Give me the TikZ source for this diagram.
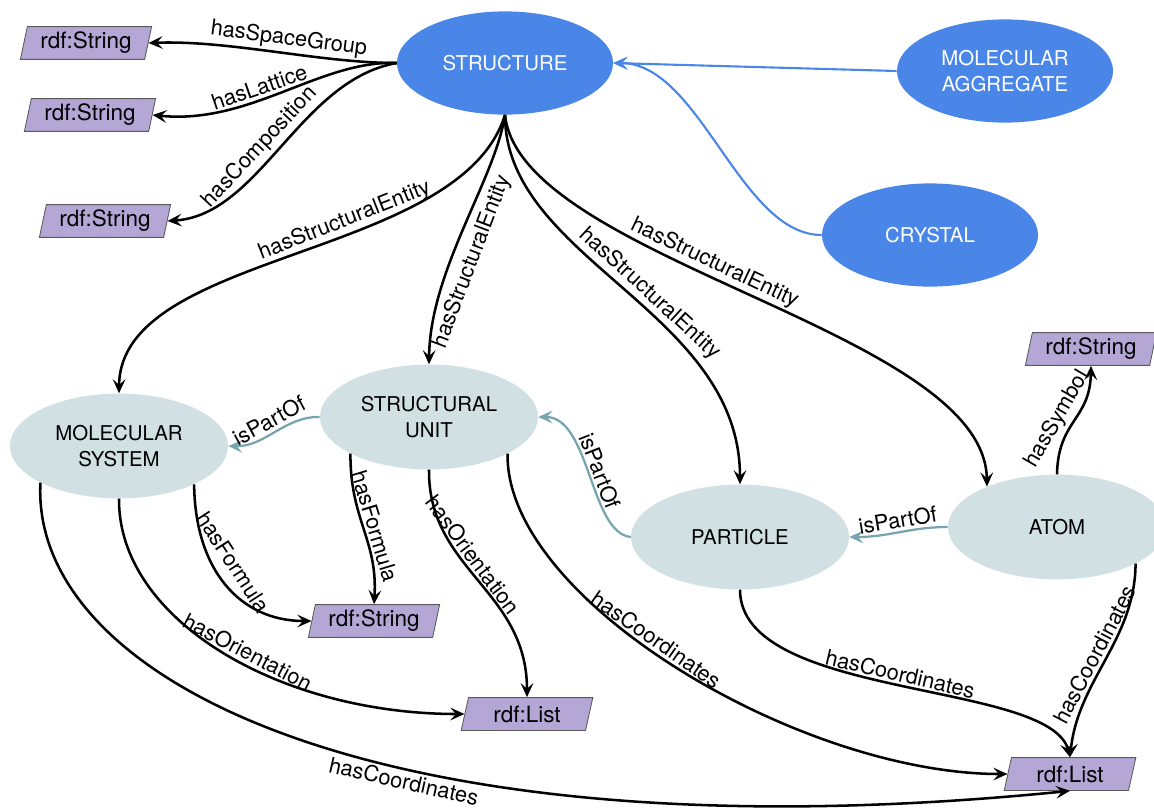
\documentclass[tikz,border=0pt]{standalone}
\usepackage{fontspec}
\setmainfont{TeX Gyre Heros}
\usetikzlibrary{shapes.geometric,arrows.meta}

\definecolor{classblue}{RGB}{74,134,232}
\definecolor{classgrey}{RGB}{208,224,227}
\definecolor{typepurple}{RGB}{180,167,214}
\definecolor{partteal}{RGB}{118,165,175}

\begin{document}
\begin{tikzpicture}[x=0.025cm, y=-0.025cm, font=\fontsize{14.5}{18}\selectfont]
        \tikzstyle{bigclass}=[ellipse,fill=classblue,text=white,minimum width=5.4cm,minimum height=2.58cm,align=center,inner sep=0pt]
        \tikzstyle{entity}=[ellipse,fill=classgrey,minimum width=5.45cm,minimum height=2.62cm,align=center,inner sep=0pt]
        \tikzstyle{literal}=[trapezium,trapezium left angle=76,trapezium right angle=104,trapezium stretches=true,draw=black!65,line width=0.6pt,fill=typepurple,minimum width=3.3cm,minimum height=0.82cm,inner sep=0pt,font=\fontsize{16}{18}\selectfont]
        \tikzstyle{relation}=[-{Stealth[length=10pt,width=9pt,inset=4pt]},line width=1.8pt]
        \tikzstyle{partof}=[relation,draw=partteal,line width=1.6pt]
        \tikzstyle{subclass}=[relation,draw=classblue,line width=1.5pt]
        \tikzstyle{lbl}=[sloped,inner sep=2pt,font=\fontsize{15.5}{18}\selectfont]

        \useasboundingbox (0,0) rectangle (1154,811);

        \node[bigclass] (C_1) at (505,63)  {STRUCTURE};
        \node[bigclass] (C_2) at (1005,71) {MOLECULAR\\AGGREGATE};
        \node[bigclass] (C_3) at (930,235) {CRYSTAL};

        \node[entity] (E_1) at (119,446)  {MOLECULAR\\SYSTEM};
        \node[entity] (E_2) at (429,417)  {STRUCTURAL\\UNIT};
        \node[entity] (E_3) at (740,537)  {PARTICLE};
        \node[entity] (E_4) at (1057,527) {ATOM};

        \node[literal] (T_1) at (86,43)    {rdf:String};
        \node[literal] (T_2) at (90,115)   {rdf:String};
        \node[literal] (T_3) at (105,221)  {rdf:String};
        \node[literal] (T_4) at (1091,349) {rdf:String};
        \node[literal] (T_5) at (374,621)  {rdf:String};
        \node[literal] (T_6) at (527,714)  {rdf:List};
        \node[literal] (T_7) at (1070,774) {rdf:List};

        \draw[subclass] (C_2.west) -- (C_1.east);
        \draw[subclass] (C_3.west) .. controls (740,235) and (700,63) .. (C_1.east);

        \draw[relation] (C_1.west) .. controls (320,63) and (230,40) .. (T_1.east) node[lbl,pos=0.45,above] {hasSpaceGroup};
        \draw[relation] (C_1.west) .. controls (320,60) and (250,125) .. (T_2.east) node[lbl,pos=0.58,above] {hasLattice};
        \draw[relation] (C_1.west) .. controls (300,80) and (260,215) .. (T_3.east) node[lbl,pos=0.55,above] {hasComposition};

        \draw[relation] (C_1.south) .. controls (460,260) and (120,250) .. (E_1.north) node[lbl,pos=0.4,above] {hasStructuralEntity};
        \draw[relation] (C_1.south) .. controls (495,180) and (430,270) .. (E_2.north) node[lbl,pos=0.6,below=4pt] {hasStructuralEntity};
        \draw[relation] (C_1.south) .. controls (505,260) and (740,310) .. (E_3.north) node[lbl,pos=0.55,above] {hasStructuralEntity};
        \draw[relation] (C_1.south) .. controls (520,260) and (985,330) .. (E_4.150) node[lbl,pos=0.44,above] {hasStructuralEntity};

        \draw[partof] (E_2.west) .. controls (285,416) and (265,447) .. (E_1.east) node[lbl,pos=0.5,above,text=black] {isPartOf};
        \draw[partof] (E_3.west) .. controls (590,533) and (590,417) .. (E_2.east) node[lbl,pos=0.5,above,text=black] {isPartOf};
        \draw[partof] (E_4.west) .. controls (910,527) and (890,537) .. (E_3.east) node[lbl,pos=0.5,above,text=black] {isPartOf};

        \draw[relation] (E_4.north) .. controls (1058,420) and (1090,420) .. (T_4.south) node[lbl,pos=0.42,above] {hasSymbol};
        \draw[relation] (E_1.333) .. controls (195,570) and (240,621) .. (T_5.west) node[lbl,pos=0.42,above=5pt] {hasFormula};
        \draw[relation] (E_2.205) .. controls (350,520) and (378,540) .. (T_5.north) node[lbl,pos=0.5,above] {hasFormula};
        \draw[relation] (E_2.270) .. controls (428,570) and (527,590) .. (T_6.north) node[lbl,pos=0.4,above] {hasOrientation};
        \draw[relation] (E_1.270) .. controls (118,620) and (280,714) .. (T_6.west) node[lbl,pos=0.55,above] {hasOrientation};

        \draw[relation] (E_2.335) .. controls (505,600) and (800,774) .. (T_7.west) node[lbl,pos=0.45,above] {hasCoordinates};
        \draw[relation] (E_1.205) .. controls (30,680) and (380,860) .. (T_7.south) node[lbl,pos=0.6,below] {hasCoordinates};
        \draw[relation] (E_3.south) .. controls (740,700) and (1050,680) .. (T_7.north) node[lbl,pos=0.5,above] {hasCoordinates};
        \draw[relation] (E_4.335) .. controls (1135,640) and (1078,680) .. (T_7.north) node[lbl,pos=0.5,above] {hasCoordinates};
\end{tikzpicture}
\end{document}
